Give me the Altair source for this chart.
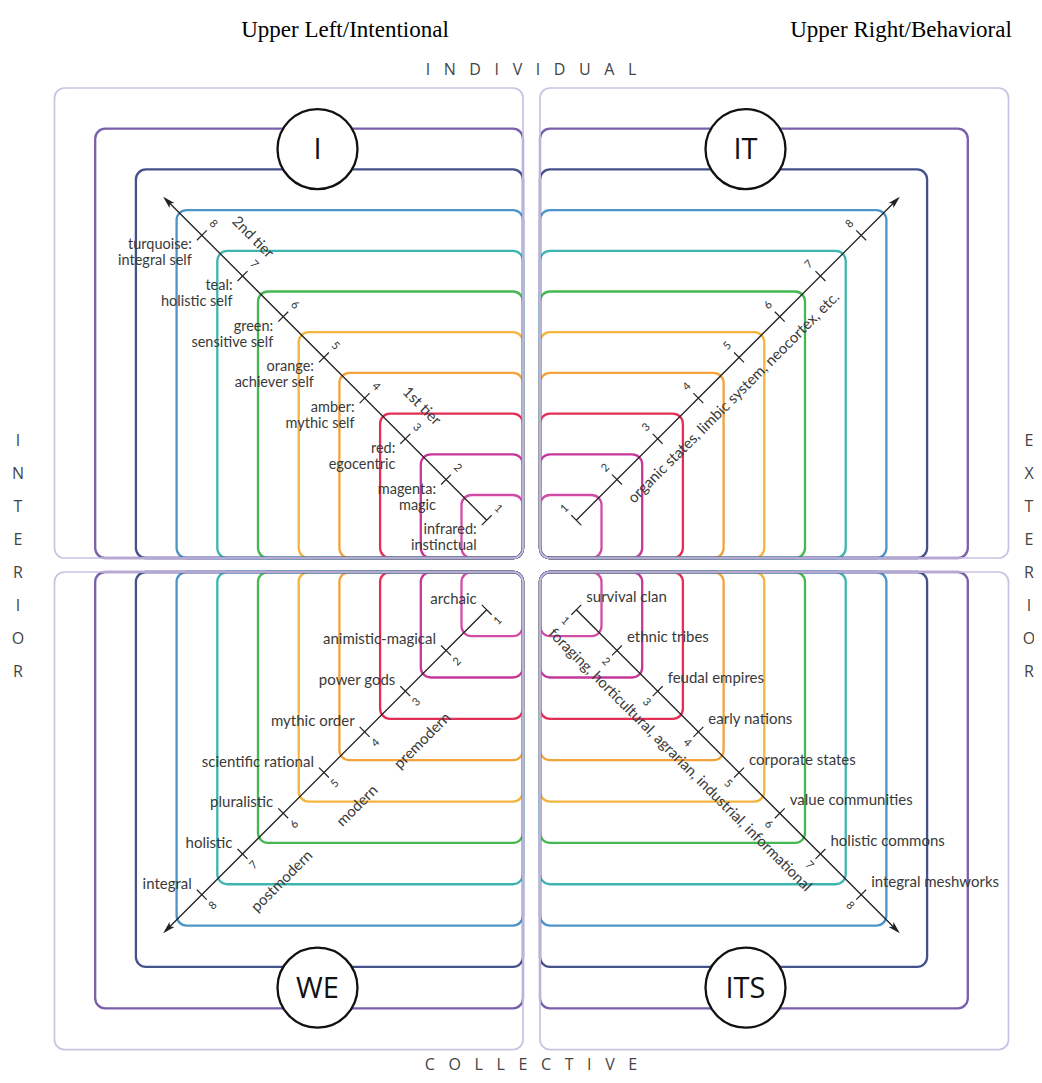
import math
import altair as alt
import pandas as pd

# ---------------- data ----------------
LEVELS = list(range(1, 12))  # nested boxes, innermost (1) to outermost (11)
LEVEL_COLORS = ["#d24ca6", "#c7379a", "#e32f55", "#f3a33b", "#f4b53f", "#44b94f",
                "#3eb5b0", "#4d95c8", "#44528a", "#7a5fab", "#c9c2e2"]
QUADRANTS = ["UL", "UR", "LL", "LR"]
QUAD_NAMES = ["I", "IT", "WE", "ITS"]
STEPS = list(range(1, 9))
UL_LABELS = ["infrared:\ninstinctual", "magenta:\nmagic", "red:\negocentric", "amber:\nmythic self",
             "orange:\nachiever self", "green:\nsensitive self", "teal:\nholistic self",
             "turquoise:\nintegral self"]
LL_LABELS = ["archaic", "animistic-magical", "power gods", "mythic order", "scientific rational",
             "pluralistic", "holistic", "integral"]
LR_LABELS = ["survival clan", "ethnic tribes", "feudal empires", "early nations", "corporate states",
             "value communities", "holistic commons", "integral meshworks"]
TIER_LABELS = ["1st tier", "2nd tier"]
TIER_AT = [3.3, 7.45]
ERA_LABELS = ["premodern", "modern", "postmodern"]
ERA_AT = [3.5, 5.1, 6.95]
UR_AXIS_LABEL = "organic states, limbic system, neocortex, etc."
UR_AXIS_AT = 4.54
LR_AXIS_LABEL = "foraging, horticultural, agrarian, industrial, informational"
LR_AXIS_AT = 4.22
TITLES = ["Upper Left/Intentional", "Upper Right/Behavioral"]
TOP_LABEL, BOTTOM_LABEL = "INDIVIDUAL", "COLLECTIVE"
LEFT_LABEL, RIGHT_LABEL = "INTERIOR", "EXTERIOR"

# ---------------- layout ----------------
U = 40.7             # pixels per level unit
CX, CY = 531.5, 565.0
W, H = 1026, 1067
SX = {"UL": -1, "UR": 1, "LL": -1, "LR": 1}
SY = {"UL": 1, "UR": 1, "LL": -1, "LR": -1}
BOX_STRETCH = {"UL": 1.0, "UR": 1.0, "LL": 1.016, "LR": 1.016}  # lower boxes drawn a little taller
GAP_X, GAP_Y = 8.5 / U, 7.0 / U
EDGE = 0.72
TICK_OFF = 0.1
ARROW_END = 9.1
TICK_HALF = 7.0 / U
DIGIT_SIDE = {"UL": (1, 1), "UR": (-1, 1), "LL": (1, -1), "LR": (-1, -1)}
DIGIT_ANGLE = {"UL": 45, "UR": 315, "LL": 315, "LR": 45}
ARROW_ANGLE = {"UL": 315, "UR": 45, "LL": 225, "LR": 135}
R2 = math.sqrt(2)
LABEL_FONT = "Lato"
LABEL_SIZE = 15
TEXT_COLOR = "#3a3a3a"


def ux(px):
    return (px - CX) / U


def uy(py):
    return (CY - py) / U


xs = alt.Scale(domain=[ux(8), ux(8 + W)], nice=False, zero=False)
ys = alt.Scale(domain=[uy(8 + H), uy(8)], nice=False, zero=False)


def X(f="x"):
    return alt.X(f"{f}:Q", scale=xs, axis=None)


def Y(f="y"):
    return alt.Y(f"{f}:Q", scale=ys, axis=None)


# ---------------- boxes ----------------
rows = []
for q in QUADRANTS:
    for lv in LEVELS:
        rows.append(dict(q=q, level=lv, x=SX[q] * GAP_X, x2=SX[q] * (lv + EDGE),
                         y=SY[q] * GAP_Y, y2=SY[q] * (lv + EDGE) * BOX_STRETCH[q]))
boxes = alt.Chart(pd.DataFrame(rows)).mark_rect(filled=False, cornerRadius=10).encode(
    x=X(), x2="x2:Q", y=Y(), y2="y2:Q",
    stroke=alt.Stroke("level:O", scale=alt.Scale(domain=LEVELS, range=LEVEL_COLORS), legend=None),
    strokeWidth=alt.condition("datum.level == 11", alt.value(1.7), alt.value(2.3)),
)

# ---------------- axes (arrows) ----------------
axis_rows, tick_rows, digit_rows, head_rows = [], [], [], []
for q in QUADRANTS:
    sx, sy = SX[q], SY[q]
    t0 = 1 + TICK_OFF
    axis_rows.append(dict(x=sx * t0, y=sy * t0, x2=sx * (ARROW_END - 0.1), y2=sy * (ARROW_END - 0.1)))
    head_rows.append(dict(x=sx * (ARROW_END - 0.17), y=sy * (ARROW_END - 0.17), angle=ARROW_ANGLE[q]))
    nx, ny = DIGIT_SIDE[q][0] / R2, DIGIT_SIDE[q][1] / R2
    for k in STEPS:
        t = k + TICK_OFF
        px, py = sx * t, sy * t
        tick_rows.append(dict(x=px - TICK_HALF * nx, y=py - TICK_HALF * ny,
                              x2=px + TICK_HALF * nx, y2=py + TICK_HALF * ny))
        d = 16.0 / U
        digit_rows.append(dict(x=px + d * nx, y=py + d * ny, label=str(k), angle=DIGIT_ANGLE[q]))

axis_lines = alt.Chart(pd.DataFrame(axis_rows)).mark_rule(color="#222", strokeWidth=1.3).encode(
    x=X(), y=Y(), x2="x2:Q", y2="y2:Q")
tick_lines = alt.Chart(pd.DataFrame(tick_rows)).mark_rule(color="#222", strokeWidth=1.2).encode(
    x=X(), y=Y(), x2="x2:Q", y2="y2:Q")
heads = alt.Chart(pd.DataFrame(head_rows)).mark_point(
    shape="M0,-1L0.5,0.8L0,0.4L-0.5,0.8Z", filled=True, color="#222", size=190, opacity=1
).encode(x=X(), y=Y(), angle=alt.Angle("angle:Q", scale=None))
digits = alt.Chart(pd.DataFrame(digit_rows)).mark_text(
    font=LABEL_FONT, fontSize=11, color="#333", align="center", baseline="middle"
).encode(x=X(), y=Y(), text="label:N", angle=alt.Angle("angle:Q", scale=None))

# ---------------- level labels ----------------
ul_df = pd.DataFrame([dict(x=-(k + TICK_OFF) - 10 / U, y=(k + TICK_OFF) - 3 / U, label=UL_LABELS[k - 1])
                      for k in STEPS])
ul_text = alt.Chart(ul_df).mark_text(
    font=LABEL_FONT, fontSize=14.5, color=TEXT_COLOR, align="right", baseline="top",
    lineBreak="\n", lineHeight=16
).encode(x=X(), y=Y(), text="label:N")

ll_df = pd.DataFrame([dict(x=-(k + TICK_OFF) - 10 / U, y=-(k + TICK_OFF) + 11 / U, label=LL_LABELS[k - 1])
                      for k in STEPS])
ll_text = alt.Chart(ll_df).mark_text(
    font=LABEL_FONT, fontSize=LABEL_SIZE, color=TEXT_COLOR, align="right", baseline="middle"
).encode(x=X(), y=Y(), text="label:N")

lr_df = pd.DataFrame([dict(x=(k + TICK_OFF) + 10 / U, y=-(k + TICK_OFF) + 13 / U, label=LR_LABELS[k - 1])
                      for k in STEPS])
lr_text = alt.Chart(lr_df).mark_text(
    font=LABEL_FONT, fontSize=LABEL_SIZE, color=TEXT_COLOR, align="left", baseline="middle"
).encode(x=X(), y=Y(), text="label:N")

# ---------------- rotated captions along the axes ----------------
cap_rows = []
for lab, t in zip(TIER_LABELS, TIER_AT):
    cap_rows.append(dict(x=-t + 0.86 / R2, y=t + 0.86 / R2, label=lab, angle=45))
for lab, t in zip(ERA_LABELS, ERA_AT):
    cap_rows.append(dict(x=-t + 1.15 / R2, y=-t - 1.15 / R2, label=lab, angle=315))
cap_rows.append(dict(x=UR_AXIS_AT + 0.6 / R2, y=UR_AXIS_AT - 0.6 / R2, label=UR_AXIS_LABEL, angle=315))
cap_rows.append(dict(x=LR_AXIS_AT - 0.8 / R2, y=-LR_AXIS_AT - 0.8 / R2, label=LR_AXIS_LABEL, angle=45))
captions = alt.Chart(pd.DataFrame(cap_rows)).mark_text(
    font=LABEL_FONT, fontSize=LABEL_SIZE, color=TEXT_COLOR, align="center", baseline="middle"
).encode(x=X(), y=Y(), text="label:N", angle=alt.Angle("angle:Q", scale=None))

# ---------------- quadrant circles ----------------
CIRCLE_DX = 214 / U
CIRCLE_T = 9.5 + EDGE
circ_df = pd.DataFrame([dict(x=SX[q] * CIRCLE_DX, y=SY[q] * CIRCLE_T * BOX_STRETCH[q], name=n)
                        for q, n in zip(QUADRANTS, QUAD_NAMES)])
circles = alt.Chart(circ_df).mark_point(
    shape="circle", filled=True, fill="white", stroke="#111", strokeWidth=2.3, size=80 * 80, opacity=1
).encode(x=X(), y=Y())
circle_text = alt.Chart(circ_df).mark_text(
    font="Open Sans", fontSize=29, color="#111", align="center", baseline="middle", dy=1
).encode(x=X(), y=Y(), text="name:N")

# ---------------- frame labels ----------------
SEP = "\u2002\u2005\u200a"
frame_df = pd.DataFrame([
    dict(x=ux(531), y=uy(70), label=SEP.join(TOP_LABEL)),
    dict(x=ux(531), y=uy(1065), label=SEP.join(BOTTOM_LABEL)),
])
frame_text = alt.Chart(frame_df).mark_text(
    font="Open Sans", fontSize=16, color="#444", align="center", baseline="middle"
).encode(x=X(), y=Y(), text="label:N")

side_df = pd.DataFrame([
    dict(x=ux(18), y=uy(441), label="\n".join(LEFT_LABEL)),
    dict(x=ux(1029), y=uy(441), label="\n".join(RIGHT_LABEL)),
])
side_text = alt.Chart(side_df).mark_text(
    font="Open Sans", fontSize=16, color="#444", align="center", baseline="middle",
    lineBreak="\n", lineHeight=33
).encode(x=X(), y=Y(), text="label:N")

title_df = pd.DataFrame([
    dict(x=ux(345), y=uy(30), label=TITLES[0]),
    dict(x=ux(901), y=uy(30), label=TITLES[1]),
])
titles = alt.Chart(title_df).mark_text(
    font="Liberation Serif", fontSize=23, color="#000", align="center", baseline="middle"
).encode(x=X(), y=Y(), text="label:N")

chart = alt.layer(
    boxes, circles, circle_text, axis_lines, tick_lines, heads, digits,
    ul_text, ll_text, lr_text, captions, frame_text, side_text, titles
).properties(width=W, height=H, padding=0, autosize="none", background="white").configure_view(stroke=None)

chart.save("out.html", embed_options={"renderer": "svg", "actions": False})
